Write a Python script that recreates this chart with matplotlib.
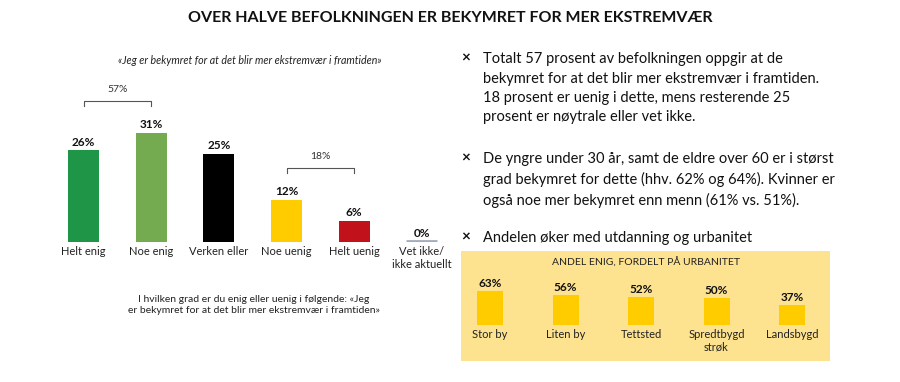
import matplotlib.pyplot as plt
import numpy as np

plt.rcParams['font.family'] = ['Lato', 'DejaVu Sans']

# main chart data
categories = ['Helt enig', 'Noe enig', 'Verken eller', 'Noe uenig', 'Helt uenig', 'Vet ikke/\nikke aktuellt']
values = [26, 31, 25, 12, 6, 0]
colors = ['#1e9547', '#74aa50', '#000000', '#ffcc00', '#c1121c', '#a3acbd']
groups = [(0, 1, '57%'), (3, 4, '18%')]

# inset data
urban_cats = ['Stor by', 'Liten by', 'Tettsted', 'Spredtbygd\nstrøk', 'Landsbygd']
urban_vals = [63, 56, 52, 50, 37]

bullets = [
    'Totalt 57 prosent av befolkningen oppgir at de\nbekymret for at det blir mer ekstremvær i framtiden.\n18 prosent er uenig i dette, mens resterende 25\nprosent er nøytrale eller vet ikke.',
    'De yngre under 30 år, samt de eldre over 60 er i størst\ngrad bekymret for dette (hhv. 62% og 64%). Kvinner er\nogså noe mer bekymret enn menn (61% vs. 51%).',
    'Andelen øker med utdanning og urbanitet',
]

W, H = 900, 382
fig = plt.figure(figsize=(W / 100, H / 100), dpi=100)


def px_axes(left, top, right, bottom):
    return fig.add_axes([left / W, 1 - bottom / H, (right - left) / W, (bottom - top) / H])


fig.text(450 / W, 1 - 18 / H, 'OVER HALVE BEFOLKNINGEN ER BEKYMRET FOR MER EKSTREMVÆR',
         ha='center', va='center', fontsize=11.5, fontweight='bold', color='#111111')

# left bar chart
step, x0 = 67.7, 83.5
ax = px_axes(40, 40, 460, 242)
ax.set_xlim(-(x0 - 40) / step, (460 - x0) / step)
ax.set_ylim(0, (242 - 40) / 3.52)
ax.axis('off')
bw = 31 / step
for i, v in enumerate(values):
    if v > 0:
        ax.bar(i, v, width=bw, color=colors[i], edgecolor='none')
    else:
        ax.plot([i - bw / 2, i + bw / 2], [0.3, 0.3], color=colors[i], lw=2, solid_capstyle='butt')
    ax.annotate(f'{v}%', (i, v), xytext=(0, 2), textcoords='offset points',
                ha='center', va='bottom', fontsize=8.5, fontweight='bold', color='#111111')
    ax.annotate(categories[i], (i, 0), xytext=(0, -3), textcoords='offset points',
                ha='center', va='top', fontsize=8, color='#222222', annotation_clip=False,
                linespacing=1.15)

for a, b, lab in groups:
    top = max(values[a], values[b]) + 9
    ax.plot([a, a, b, b], [top - 1.5, top, top, top - 1.5], color='#555555', lw=0.8)
    ax.text((a + b) / 2, top + 3.3, lab, ha='center', va='center', fontsize=7.5, color='#333333')

fig.text(250 / W, 1 - 60 / H, '«Jeg er bekymret for at det blir mer ekstremvær i framtiden»',
         ha='center', va='center', fontsize=7.7, style='italic', color='#222222')
fig.text(254 / W, 1 - 305 / H,
         'I hvilken grad er du enig eller uenig i følgende: «Jeg\ner bekymret for at det blir mer ekstremvær i framtiden»',
         ha='center', va='center', fontsize=7.5, color='#222222', linespacing=1.4)

# bullet text
for ytop, txt in zip([52, 152, 231], bullets):
    fig.text(466 / W, 1 - (ytop + 7) / H, '×', ha='center', va='center', fontsize=11,
             fontweight='bold', color='#111111')
    fig.text(483 / W, 1 - ytop / H, txt, ha='left', va='top', fontsize=10.5,
             color='#111111', linespacing=1.5)

# inset urbanity chart
ustep, ux0 = 75.5, 490
ax2 = px_axes(461, 251, 830, 361)
ax2.set_facecolor('#fde28f')
ax2.set_xlim(-(ux0 - 461) / ustep, (830 - ux0) / ustep)
ax2.set_ylim(-(361 - 325) / 0.54, (325 - 251) / 0.54)
for s in ax2.spines.values():
    s.set_visible(False)
ax2.set_xticks([])
ax2.set_yticks([])
ax2.bar(np.arange(len(urban_vals)), urban_vals, width=26 / ustep, color='#ffcc00')
for i, v in enumerate(urban_vals):
    ax2.annotate(f'{v}%', (i, v), xytext=(0, 1.5), textcoords='offset points',
                 ha='center', va='bottom', fontsize=8.5, fontweight='bold', color='#111111')
    ax2.annotate(urban_cats[i], (i, 0), xytext=(0, -3), textcoords='offset points',
                 ha='center', va='top', fontsize=8, color='#222222', linespacing=1.15)
ax2.text(0.5, 1 - 12 / 110, 'ANDEL ENIG, FORDELT PÅ URBANITET', transform=ax2.transAxes,
         ha='center', va='center', fontsize=7.5, color='#222222')

fig.savefig('out.png', dpi=100)
